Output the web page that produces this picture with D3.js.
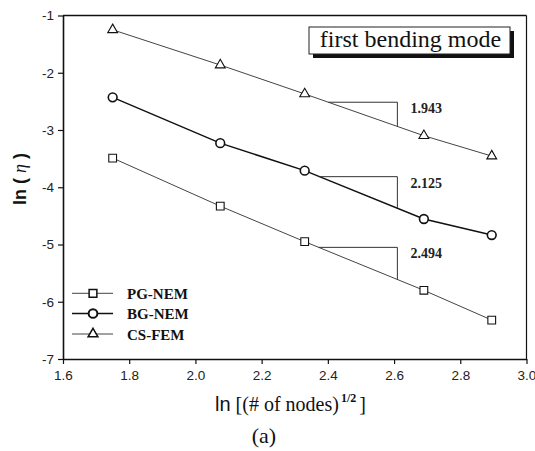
<!DOCTYPE html>
<html><head><meta charset="utf-8">
<script src="https://cdn.jsdelivr.net/npm/d3@7"></script>
<style>body{margin:0;background:#fff}svg{display:block}</style>
</head><body>
<script>
const xValues = [1.75, 2.075, 2.33, 2.69, 2.895];
const pgNem = [-3.49, -4.33, -4.95, -5.80, -6.32];
const bgNem = [-2.43, -3.23, -3.71, -4.555, -4.835];
const csFem = [-1.25, -1.865, -2.37, -3.10, -3.455];
const seriesNames = ["PG-NEM", "BG-NEM", "CS-FEM"];
const xTicks = [1.6, 1.8, 2.0, 2.2, 2.4, 2.6, 2.8, 3.0];
const yTicks = [-1, -2, -3, -4, -5, -6, -7];
const slopeLabels = ["2.494", "2.125", "1.943"];
const slopeLevels = [-5.05, -3.815, -2.515];   // y level of each slope triangle's horizontal edge
const slopeEnd = 2.61;                           // x where the vertical edge sits
const titleText = "first bending mode";

const W = 535, H = 451;
const m = {l: 63, r: 526.5, t: 15.5, b: 359};
const x = d3.scaleLinear().domain([1.6, 3.0]).range([m.l, m.r]);
const y = d3.scaleLinear().domain([-7, -1]).range([m.b, m.t]);

const svg = d3.select("body").append("svg").attr("width", W).attr("height", H);

const series = [
  {name: seriesNames[0], vals: pgNem, sym: d3.symbolSquare, size: 60, sw: 1, col: "#444", msw: 1.1},
  {name: seriesNames[1], vals: bgNem, sym: d3.symbolCircle, size: 60, sw: 1.5, col: "#111", msw: 1.6},
  {name: seriesNames[2], vals: csFem, sym: d3.symbolTriangle, size: 42, sw: 1, col: "#444", msw: 1.1}
];

// axes
const xAxis = d3.axisBottom(x).tickValues(xTicks).tickFormat(d3.format(".1f")).tickSize(5).tickSizeOuter(0);
const yAxis = d3.axisLeft(y).tickValues(yTicks).tickFormat(d => String(d)).tickSize(5).tickSizeOuter(0);
const gx = svg.append("g").attr("transform", `translate(0,${m.b})`).call(xAxis);
const gy = svg.append("g").attr("transform", `translate(${m.l},0)`).call(yAxis);
[gx, gy].forEach(g => {
  g.select(".domain").attr("stroke", "#111").attr("stroke-width", 1.6);
  g.selectAll(".tick line").attr("stroke", "#111").attr("stroke-width", 1.2);
  g.selectAll(".tick text").attr("fill", "#222").attr("font-family", "Liberation Sans, Arial, sans-serif").attr("font-size", 13.5);
});
gx.selectAll(".tick text").attr("dy", "0.95em");
gy.selectAll(".tick text").attr("x", -9);
// top and right frame
svg.append("line").attr("x1", m.l).attr("x2", m.r).attr("y1", m.t).attr("y2", m.t).attr("stroke", "#111").attr("stroke-width", 1.6);
svg.append("line").attr("x1", m.r).attr("x2", m.r).attr("y1", m.t).attr("y2", m.b).attr("stroke", "#111").attr("stroke-width", 1.2);

// series lines and markers
const line = d3.line().x((d, i) => x(xValues[i])).y(d => y(d));
series.forEach(s => {
  svg.append("path").attr("d", line(s.vals)).attr("fill", "none").attr("stroke", s.col).attr("stroke-width", s.sw);
  svg.selectAll(null).data(s.vals).enter().append("path")
    .attr("d", d3.symbol().type(s.sym).size(s.size))
    .attr("transform", (d, i) => `translate(${x(xValues[i])},${y(d)})`)
    .attr("fill", "#fff").attr("stroke", "#111").attr("stroke-width", s.msw);
});

// slope triangles
function xAtY(vals, yv) {
  for (let i = 0; i < vals.length - 1; i++) {
    const a = vals[i], b = vals[i + 1];
    if ((a - yv) * (b - yv) <= 0) return xValues[i] + (yv - a) / (b - a) * (xValues[i + 1] - xValues[i]);
  }
  return xValues[0];
}
function yAtX(vals, xv) {
  for (let i = 0; i < xValues.length - 1; i++) {
    if (xv >= xValues[i] && xv <= xValues[i + 1]) {
      const t = (xv - xValues[i]) / (xValues[i + 1] - xValues[i]);
      return vals[i] + t * (vals[i + 1] - vals[i]);
    }
  }
  return vals[vals.length - 1];
}
series.forEach((s, k) => {
  const lev = slopeLevels[k];
  const x0 = xAtY(s.vals, lev);
  const yb = yAtX(s.vals, slopeEnd);
  svg.append("path")
    .attr("d", `M${x(x0)},${y(lev)}H${x(slopeEnd)}V${y(yb)}`)
    .attr("fill", "none").attr("stroke", "#333").attr("stroke-width", 1);
  svg.append("text").attr("x", x(slopeEnd) + 13).attr("y", y(lev) + 11)
    .attr("font-family", "Liberation Serif, Times New Roman, serif").attr("font-weight", "bold")
    .attr("font-size", 14).attr("fill", "#222").text(slopeLabels[k]);
});

// title box
const tb = {x: 309, y: 27, w: 201, h: 27};
svg.append("rect").attr("x", tb.x + 4).attr("y", tb.y + 4).attr("width", tb.w).attr("height", tb.h).attr("fill", "#111");
svg.append("rect").attr("x", tb.x).attr("y", tb.y).attr("width", tb.w).attr("height", tb.h).attr("fill", "#fff").attr("stroke", "#222").attr("stroke-width", 1);
svg.append("text").attr("x", tb.x + tb.w / 2 + 1).attr("y", tb.y + 20).attr("text-anchor", "middle")
  .attr("font-family", "Liberation Serif, Times New Roman, serif").attr("font-size", 24).attr("fill", "#111").text(titleText);

// legend
const legY = [293.3, 313.5, 334];
series.forEach((s, k) => {
  const g = svg.append("g");
  g.append("line").attr("x1", 72).attr("x2", 113).attr("y1", legY[k]).attr("y2", legY[k]).attr("stroke", s.col).attr("stroke-width", s.sw);
  g.append("path").attr("d", d3.symbol().type(s.sym).size(s.size)).attr("transform", `translate(93,${legY[k]})`)
    .attr("fill", "#fff").attr("stroke", "#111").attr("stroke-width", s.msw + 0.4);
  g.append("text").attr("x", 127).attr("y", legY[k] + 5.5)
    .attr("font-family", "Liberation Serif, Times New Roman, serif").attr("font-weight", "bold").attr("font-size", 15)
    .attr("fill", "#111").text(s.name);
});

// y label
const yl = svg.append("text").attr("transform", "translate(26,179) rotate(-90)").attr("text-anchor", "middle")
  .attr("font-family", "Liberation Sans, Arial, sans-serif").attr("font-size", 18).attr("fill", "#111");
yl.append("tspan").attr("font-weight", "bold").text("ln ( ");
yl.append("tspan").attr("font-family", "Liberation Serif, Times New Roman, serif").attr("font-style", "italic").text("η");
yl.append("tspan").attr("font-weight", "bold").text(" )");

// x label
const xl = svg.append("text").attr("x", 215).attr("y", 411).attr("font-size", 20).attr("fill", "#111")
  .attr("font-family", "Liberation Serif, Times New Roman, serif");
xl.append("tspan").attr("font-family", "Liberation Sans, Arial, sans-serif").text("ln");
xl.append("tspan").text(" [(# of nodes)");
xl.append("tspan").attr("font-size", 12).attr("font-weight", "bold").attr("dy", -9).attr("dx", 2).text("1/2");
xl.append("tspan").attr("dy", 9).attr("dx", 3).text("]");

svg.append("text").attr("x", 264).attr("y", 443).attr("text-anchor", "middle")
  .attr("font-family", "Liberation Serif, Times New Roman, serif").attr("font-size", 22).attr("fill", "#111").text("(a)");
</script>
</body></html>
